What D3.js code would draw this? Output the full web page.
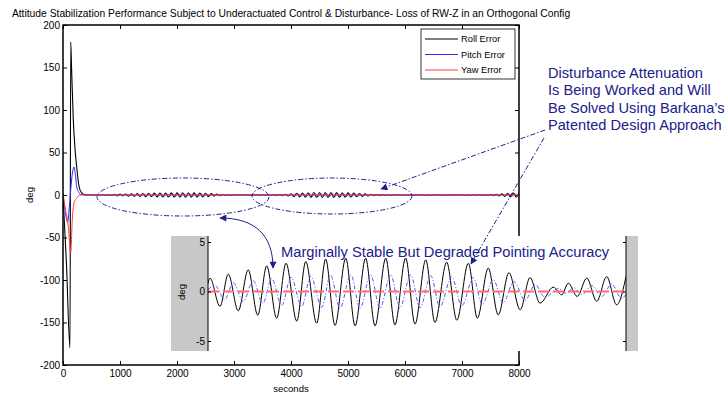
<!DOCTYPE html>
<html>
<head>
<meta charset="utf-8">
<script src="https://cdn.jsdelivr.net/npm/d3@7"></script>
<style>
  body { margin: 0; background: #fff; }
  svg, svg text { font-family: "Liberation Sans", Arial, sans-serif; }
</style>
</head>
<body>
<div id="chart"></div>
<script>
// ---- main plot data (seconds, deg) ----
const xTicks = [0, 1000, 2000, 3000, 4000, 5000, 6000, 7000, 8000];
const yTicks = [-200, -150, -100, -50, 0, 50, 100, 150, 200];
const seriesNames = ["Roll Error", "Pitch Error", "Yaw Error"];

// start-up transient
const rollTransient = [[0, 0], [60, -80], [123, -180], [135, 180], [150, 150], [181, 88], [210, 55],
  [240, 33], [270, 15], [298, 6], [356, 1], [450, 0]];
const pitchTransient = [[0, 0], [30, -15], [82, -32], [110, -15], [140, 10], [170, 28], [193, 33],
  [220, 22], [240, 10], [270, 4], [300, 1], [400, 0]];
const yawTransient = [[0, 3], [35, -14], [93, -37], [135, -68], [163, -29], [198, -8], [240, -4],
  [298, 0], [450, 0]];

// residual oscillation peaks/troughs, one every 50 s
const oscStep = 50;
const rollOscStart = 500;
const rollOsc = [
  0.3, -0.3, 0.3, -0.3, 0.4, -0.4, 0.5, -0.6,
  0.8, -0.9, 1.0, -1.1, 1.2, -1.3, 1.4, -1.5, 1.6, -1.7,
  1.8, -1.9, 2.0, -2.1, 2.2, -2.2, 2.3, -2.3, 2.4, -2.4,
  2.5, -2.5, 2.5, -2.5, 2.6, -2.6, 2.6, -2.6, 2.5, -2.5,
  2.4, -2.3, 2.1, -1.9, 1.6, -1.3, 1.0, -0.8, 0.6, -0.5, 0.4,
  -0.4, 0.3, -0.3, 0.3, -0.3, 0.3, -0.3, 0.3, -0.3, 0.3,
  -0.3, 0.3, -0.3, 0.3, -0.4, 0.4, -0.5, 0.6, -0.7, 0.9, -1.1,
  1.4, -1.7, 2.0, -2.2, 2.4, -2.6, 2.7, -2.8, 2.9, -2.9,
  3.0, -3.0, 3.0, -3.0, 2.9, -2.9, 2.8, -2.8, 2.7, -2.6,
  2.5, -2.4, 2.2, -2.0, 1.8, -1.6, 1.3, -1.1, 0.9, -0.7, 0.6, -0.5,
  0.4, -0.4, 0.3, -0.3, 0.3, -0.3, 0.3, -0.3, 0.3, -0.3,
  0.3, -0.3, 0.3, -0.3, 0.3, -0.3, 0.3, -0.3, 0.3, -0.3,
  0.3, -0.3, 0.3, -0.3, 0.3, -0.3, 0.3, -0.3, 0.3, -0.3,
  0.3, -0.3, 0.3, -0.3, 0.4, -0.4, 0.5, -0.5, 0.6, -0.7, 0.8,
  -1.0, 1.3, -1.6, 1.9, -2.2, 2.4, -2.6, 2.8
];
const pitchOscStart = 525;
const pitchOsc = [
  0.1, -0.1, 0.1, -0.1, 0.2, -0.2, 0.2, -0.3,
  0.4, -0.4, 0.5, -0.5, 0.6, -0.6, 0.7, -0.7, 0.8, -0.8,
  0.9, -0.9, 1.0, -1.0, 1.1, -1.1, 1.1, -1.1, 1.2, -1.2,
  1.2, -1.2, 1.2, -1.2, 1.3, -1.3, 1.3, -1.3, 1.2, -1.2,
  1.2, -1.1, 1.0, -0.9, 0.8, -0.6, 0.5, -0.4, 0.3, -0.2, 0.2,
  -0.2, 0.1, -0.1, 0.1, -0.1, 0.1, -0.1, 0.1, -0.1, 0.1,
  -0.1, 0.1, -0.1, 0.1, -0.2, 0.2, -0.2, 0.3, -0.3, 0.4, -0.5,
  0.7, -0.8, 1.0, -1.1, 1.2, -1.3, 1.3, -1.4, 1.4, -1.4,
  1.5, -1.5, 1.5, -1.5, 1.4, -1.4, 1.4, -1.4, 1.3, -1.3,
  1.2, -1.2, 1.1, -1.0, 0.9, -0.8, 0.6, -0.5, 0.4, -0.3, 0.3, -0.2,
  0.2, -0.2, 0.1, -0.1, 0.1, -0.1, 0.1, -0.1, 0.1, -0.1,
  0.1, -0.1, 0.1, -0.1, 0.1, -0.1, 0.1, -0.1, 0.1, -0.1,
  0.1, -0.1, 0.1, -0.1, 0.1, -0.1, 0.1, -0.1, 0.1, -0.1,
  0.1, -0.1, 0.1, -0.1, 0.2, -0.2, 0.2, -0.3, 0.3, -0.3, 0.4,
  -0.5, 0.6, -0.8, 0.9, -1.1, 1.2, -1.3
];
const yawTail = [[500, 0], [8000, 0]];

// ---- inset (zoomed residual, arbitrary time base in s) ----
const insetTicks = [-5, 0, 5];
const insetRoll = [[0, 0.8], [10, 1.35], [60, -1.5], [102, 1.75], [152, -1.95], [202, 2.19], [250, -2.4],
  [295, 2.59], [345, -2.7], [392, 2.86], [446, -3.0], [491, 3.03], [546, -3.2], [591, 3.27],
  [638, -3.43], [692, 3.37], [739, -3.47], [792, 3.37], [839, -3.47], [893, 3.37], [939, -3.37],
  [993, 3.37], [1040, -3.3], [1094, 3.2], [1140, -3.13], [1199, 2.96], [1250, -2.9], [1308, 2.86],
  [1353, -2.7], [1408, 2.36], [1458, -2.36], [1512, 1.9], [1568, -1.85], [1618, 1.4], [1668, -1.18],
  [1735, 0.44], [1777, -0.34], [1810, 0.84], [1855, -0.5], [1903, 1.35], [1953, -1.0], [2003, 1.5],
  [2053, -1.35], [2100, 1.5]];
const insetPitch = [[0, 0.2], [35, 0.6], [85, -0.8], [127, 0.9], [177, -1.0], [227, 1.1], [275, -1.2],
  [320, 1.3], [370, -1.4], [417, 1.45], [471, -1.5], [516, 1.55], [571, -1.6], [616, 1.65],
  [663, -1.7], [717, 1.7], [764, -1.7], [817, 1.7], [864, -1.7], [918, 1.7], [964, -1.7],
  [1018, 1.7], [1065, -1.65], [1119, 1.6], [1165, -1.55], [1224, 1.5], [1275, -1.45], [1333, 1.4],
  [1378, -1.3], [1433, 1.2], [1483, -1.15], [1537, 1.0], [1593, -0.9], [1643, 0.7], [1693, -0.6],
  [1760, 0.3], [1802, -0.2], [1835, 0.4], [1880, -0.3], [1928, 0.6], [1978, -0.5], [2028, 0.75],
  [2078, -0.7], [2100, -0.3]];
const insetYaw = [[0, 0], [2100, 0]];

const noteLines = ["Disturbance Attenuation", "Is Being Worked and Will",
  "Be Solved Using Barkana\u2019s", "Patented Design Approach"];

// ---- build series ----
const roll = rollTransient.concat(rollOsc.map((v, i) => [rollOscStart + i * oscStep, v]));
const pitch = pitchTransient.concat(pitchOsc.map((v, i) => [pitchOscStart + i * oscStep, v]));
const yaw = yawTransient.concat(yawTail);

const navy = "#20208a";
const colors = { roll: "#000", pitch: "#2b2bff", yaw: "#ff3b3b" };
const font = "'Liberation Sans', Arial, sans-serif";
const plain = d => String(d);   // hyphen minus, no thousands comma

const svg = d3.select("#chart").append("svg").attr("width", 726).attr("height", 397)
  .attr("font-family", font);

// arrow marker
const defs = svg.append("defs");
defs.append("marker").attr("id", "arr").attr("viewBox", "0 0 10 10")
  .attr("refX", 9).attr("refY", 5).attr("markerWidth", 8).attr("markerHeight", 7)
  .attr("markerUnits", "userSpaceOnUse").attr("orient", "auto-start-reverse")
  .append("path").attr("d", "M0,0 L10,5 L0,10 Z").attr("fill", navy);

const styleAxis = g => {
  g.attr("font-family", font).attr("font-size", "10px");
  g.select(".domain").remove();
  g.selectAll("line").attr("stroke", "#000");
  g.selectAll("text").attr("fill", "#000");
};

// ---- main axes ----
const x = d3.scaleLinear().domain([0, 8000]).range([63, 519]);
const y = d3.scaleLinear().domain([-200, 200]).range([365, 25]);

svg.append("text").attr("x", 291).attr("y", 17).attr("text-anchor", "middle")
  .attr("font-size", "10.3px")
  .text("Attitude Stabilization Performance Subject to Underactuated Control & Disturbance- Loss of RW-Z in an Orthogonal Config");

svg.append("g").attr("transform", "translate(0,365)")
  .call(d3.axisBottom(x).tickValues(xTicks).tickFormat(plain).tickSizeInner(-4).tickSizeOuter(0).tickPadding(5))
  .call(styleAxis);
svg.append("g").attr("transform", "translate(0,25)")
  .call(d3.axisTop(x).tickValues(xTicks).tickSizeInner(-4).tickSizeOuter(0).tickFormat(""))
  .call(styleAxis);
svg.append("g").attr("transform", "translate(63,0)")
  .call(d3.axisLeft(y).tickValues(yTicks).tickFormat(plain).tickSizeInner(-4).tickSizeOuter(0).tickPadding(3))
  .call(styleAxis);
svg.append("g").attr("transform", "translate(519,0)")
  .call(d3.axisRight(y).tickValues(yTicks).tickSizeInner(-4).tickSizeOuter(0).tickFormat(""))
  .call(styleAxis);

svg.append("text").attr("x", 291).attr("y", 392).attr("text-anchor", "middle")
  .attr("font-size", "9.5px").text("seconds");
svg.append("text").attr("transform", "translate(33,195) rotate(-90)").attr("text-anchor", "middle")
  .attr("font-size", "9.5px").text("deg");

const line = d3.line().x(d => x(d[0])).y(d => y(d[1])).curve(d3.curveMonotoneX);
defs.append("clipPath").attr("id", "mainclip")
  .append("rect").attr("x", 63).attr("y", 25).attr("width", 456).attr("height", 340);
const plot = svg.append("g").attr("clip-path", "url(#mainclip)");
plot.append("path").datum(roll).attr("d", line).attr("fill", "none").attr("stroke", colors.roll).attr("stroke-width", 1.1);
plot.append("path").datum(pitch).attr("d", line).attr("fill", "none").attr("stroke", colors.pitch).attr("stroke-width", 1);
plot.append("path").datum(yaw).attr("d", line).attr("fill", "none").attr("stroke", colors.yaw).attr("stroke-width", 1);

svg.append("rect").attr("x", 63).attr("y", 25).attr("width", 456).attr("height", 340)
  .attr("fill", "none").attr("stroke", "#000").attr("stroke-width", 1.5);

// legend
const leg = svg.append("g");
leg.append("rect").attr("x", 421).attr("y", 29).attr("width", 94).attr("height", 50)
  .attr("fill", "#fff").attr("stroke", "#000").attr("stroke-width", 0.8);
[colors.roll, colors.pitch, colors.yaw].forEach((c, i) => {
  const ly = 39 + i * 15.5;
  leg.append("line").attr("x1", 425).attr("x2", 458).attr("y1", ly).attr("y2", ly)
    .attr("stroke", c).attr("stroke-width", 1);
  leg.append("text").attr("x", 461).attr("y", ly).attr("dy", "0.35em")
    .attr("font-size", "9.3px").text(seriesNames[i]);
});

// ellipses and leader from the note
const dashDot = "5,2,1.5,2";
[[183, 197, 86, 19], [332, 196, 80, 18]].forEach(e => {
  svg.append("ellipse").attr("cx", e[0]).attr("cy", e[1]).attr("rx", e[2]).attr("ry", e[3])
    .attr("fill", "none").attr("stroke", navy).attr("stroke-width", 1).attr("stroke-dasharray", dashDot);
});
svg.append("line").attr("x1", 545).attr("y1", 130).attr("x2", 381).attr("y2", 189)
  .attr("stroke", navy).attr("stroke-width", 1).attr("stroke-dasharray", dashDot)
  .attr("marker-end", "url(#arr)");

// ---- inset ----
const ix = d3.scaleLinear().domain([0, 2100]).range([208, 626]);
const iy = d3.scaleLinear().domain([-5, 5]).range([341, 242]);
const inset = svg.append("g");
inset.append("rect").attr("x", 171).attr("y", 236).attr("width", 467).attr("height", 115).attr("fill", "#c8c8c8");
inset.append("rect").attr("x", 208).attr("y", 236).attr("width", 418).attr("height", 115).attr("fill", "#fff");
defs.append("clipPath").attr("id", "insetclip")
  .append("rect").attr("x", 208).attr("y", 236).attr("width", 418).attr("height", 115);

const iline = d3.line().x(d => ix(d[0])).y(d => iy(d[1])).curve(d3.curveMonotoneX);
const ip = inset.append("g").attr("clip-path", "url(#insetclip)");
ip.append("path").datum(insetRoll).attr("d", iline).attr("fill", "none").attr("stroke", "#000").attr("stroke-width", 1);
ip.append("path").datum(insetPitch).attr("d", iline).attr("fill", "none").attr("stroke", "#5555ff")
  .attr("stroke-width", 1).attr("stroke-dasharray", "4,2,1,2");
ip.append("path").datum(insetYaw).attr("d", iline).attr("fill", "none").attr("stroke", "#ff6a6a")
  .attr("stroke-width", 2).attr("stroke-dasharray", "11,4");

inset.append("g").attr("transform", "translate(208,0)")
  .call(d3.axisLeft(iy).tickValues(insetTicks).tickFormat(plain).tickSizeInner(-3).tickSizeOuter(0).tickPadding(3))
  .call(styleAxis);
inset.append("g").attr("transform", "translate(626,0)")
  .call(d3.axisRight(iy).tickValues(insetTicks).tickSizeInner(-3).tickSizeOuter(0).tickFormat(""))
  .call(styleAxis);
inset.append("line").attr("x1", 208).attr("x2", 208).attr("y1", 236).attr("y2", 351).attr("stroke", "#000").attr("stroke-width", 1);
inset.append("line").attr("x1", 626).attr("x2", 626).attr("y1", 236).attr("y2", 351).attr("stroke", "#000").attr("stroke-width", 1);
inset.append("text").attr("transform", "translate(185,292) rotate(-90)").attr("text-anchor", "middle")
  .attr("font-size", "9.5px").text("deg");

// annotations over the inset
svg.append("line").attr("x1", 544).attr("y1", 138).attr("x2", 471).attr("y2", 264)
  .attr("stroke", navy).attr("stroke-width", 1).attr("stroke-dasharray", dashDot)
  .attr("marker-end", "url(#arr)");
svg.append("path").attr("d", "M220,218 C255,218 273,235 273,268")
  .attr("fill", "none").attr("stroke", navy).attr("stroke-width", 1)
  .attr("marker-start", "url(#arr)").attr("marker-end", "url(#arr)");

svg.append("text").attr("x", 281).attr("y", 257).attr("font-size", "14.7px").attr("fill", navy)
  .text("Marginally Stable But Degraded Pointing Accuracy");
const note = svg.append("text").attr("font-size", "14.6px").attr("fill", navy);
noteLines.forEach((t, i) => {
  note.append("tspan").attr("x", 548).attr("y", 77.5 + i * 17.5).text(t);
});
</script>
</body>
</html>
